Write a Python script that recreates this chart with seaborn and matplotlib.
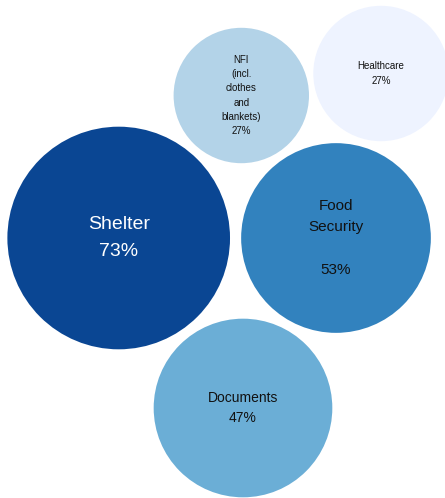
import matplotlib
matplotlib.use("Agg")
import matplotlib.pyplot as plt
import seaborn as sns
import pandas as pd

# Needs reported, share of respondents (%)
categories = ["Shelter", "Food Security", "Documents", "NFI (incl. clothes and blankets)", "Healthcare"]
values = [73, 53, 47, 27, 27]
labels = ["Shelter\n73%", "Food\nSecurity\n\n53%", "Documents\n47%",
          "NFI\n(incl.\nclothes\nand\nblankets)\n27%", "Healthcare\n27%"]

# Packed bubble layout (pixel-like canvas coordinates)
pos_x = [118.7, 336.0, 243.0, 241.3, 381.0]
pos_y = [238.0, 238.0, 408.0, 95.5, 73.5]
colors = ["#0a4693", "#3282be", "#6baed6", "#b3d3e8", "#eef3ff"]
text_colors = ["white", "#111111", "#111111", "#111111", "#111111"]
font_sizes = [14, 11, 10, 7, 7]
line_gaps = [1.82, 1.65, 1.62, 1.53, 1.53]

df = pd.DataFrame({"category": categories, "value": values, "x": pos_x, "y": pos_y})

sns.set_theme(style="white")
plt.rcParams["font.family"] = ["Liberation Sans", "DejaVu Sans"]

W, H, DPI = 445, 498, 100
fig = plt.figure(figsize=(W / DPI, H / DPI), dpi=DPI)
ax = fig.add_axes([0, 0, 1, 1])

# bubble area proportional to value
k = 352.0
sns.scatterplot(
    data=df, x="x", y="y", hue="category", size="value",
    palette=dict(zip(categories, colors)),
    sizes=(k * 27, k * 73), size_norm=(27, 73),
    linewidth=0, alpha=1, legend=False, ax=ax,
)

for x, y, lab, c, fs, ls in zip(pos_x, pos_y, labels, text_colors, font_sizes, line_gaps):
    ax.text(x, y, lab, ha="center", va="center", color=c, fontsize=fs,
            linespacing=ls, multialignment="center")

ax.set_xlim(0, W)
ax.set_ylim(H, 0)
ax.set_axis_off()
fig.patch.set_facecolor("white")
fig.savefig("out.png", dpi=DPI, facecolor="white")
